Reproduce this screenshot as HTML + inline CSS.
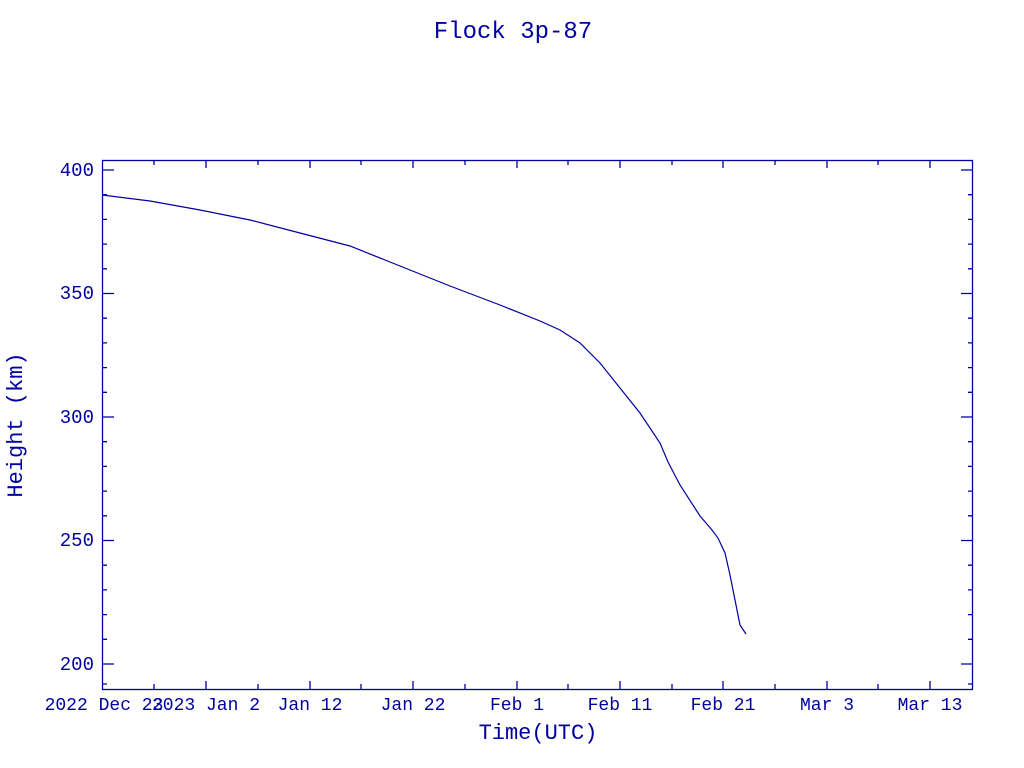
<!DOCTYPE html>
<html><head><style>body{margin:0;background:#fff}svg{display:block}text{font-family:"Liberation Mono",monospace;fill:#0000a0}</style></head><body>
<svg width="1024" height="768" xmlns="http://www.w3.org/2000/svg">
<text x="513" y="38" font-size="24" text-anchor="middle">Flock 3p-87</text>
<rect x="102.5" y="160.5" width="870" height="529" fill="none" stroke="#0000a0" stroke-width="1.3"/>
<g stroke="#0000a0" stroke-width="1.3">
<path d="M102 170h12M102 293.5h12M102 417h12M102 540.5h12M102 664h12M973 170h-12M973 293.5h-12M973 417h-12M973 540.5h-12M973 664h-12"/>
<path d="M102 194.7h5M102 219.4h5M102 244.1h5M102 268.8h5M102 318.2h5M102 342.9h5M102 367.6h5M102 392.3h5M102 441.7h5M102 466.4h5M102 491.1h5M102 515.8h5M102 565.2h5M102 589.9h5M102 614.6h5M102 639.3h5M102 684h5
M973 194.7h-5M973 219.4h-5M973 244.1h-5M973 268.8h-5M973 318.2h-5M973 342.9h-5M973 367.6h-5M973 392.3h-5M973 441.7h-5M973 466.4h-5M973 491.1h-5M973 515.8h-5M973 565.2h-5M973 589.9h-5M973 614.6h-5M973 639.3h-5M973 684h-5"/>
<path d="M206 689v-8M310 689v-8M413 689v-8M517 689v-8M620 689v-8M723 689v-8M827 689v-8M930 689v-8M206 160v8M310 160v8M413 160v8M517 160v8M620 160v8M723 160v8M827 160v8M930 160v8"/>
<path d="M154 689v-5M258 689v-5M361 689v-5M465 689v-5M568 689v-5M672 689v-5M775 689v-5M878 689v-5M154 160v5M258 160v5M361 160v5M465 160v5M568 160v5M672 160v5M775 160v5M878 160v5"/>
</g>
<g font-size="19" text-anchor="end">
<text x="94" y="176">400</text><text x="94" y="299">350</text><text x="94" y="423">300</text><text x="94" y="546">250</text><text x="94" y="670">200</text>
</g>
<g font-size="18" text-anchor="middle" xml:space="preserve">
<text x="104" y="710">2022 Dec 23</text><text x="206" y="710">2023 Jan  2</text><text x="310" y="710">Jan 12</text><text x="413" y="710">Jan 22</text><text x="517" y="710">Feb  1</text><text x="620" y="710">Feb 11</text><text x="723" y="710">Feb 21</text><text x="827" y="710">Mar  3</text><text x="930" y="710">Mar 13</text>
</g>
<text x="538" y="739" font-size="22" text-anchor="middle">Time(UTC)</text>
<text transform="translate(22,425) rotate(-90)" font-size="22" text-anchor="middle">Height (km)</text>
<polyline fill="none" stroke="#0000a0" stroke-width="1.2" points="102,195 150,201 200,210 250,220 300,233 350,246 400,266 450,286 500,305 540,321 560,330 580,343 600,363 620,388 640,413 660,443 668,462 680,485 700,516 712,530 718,538 725,553 730,575 735,600 740,625 746,634"/>
</svg>
</body></html>
